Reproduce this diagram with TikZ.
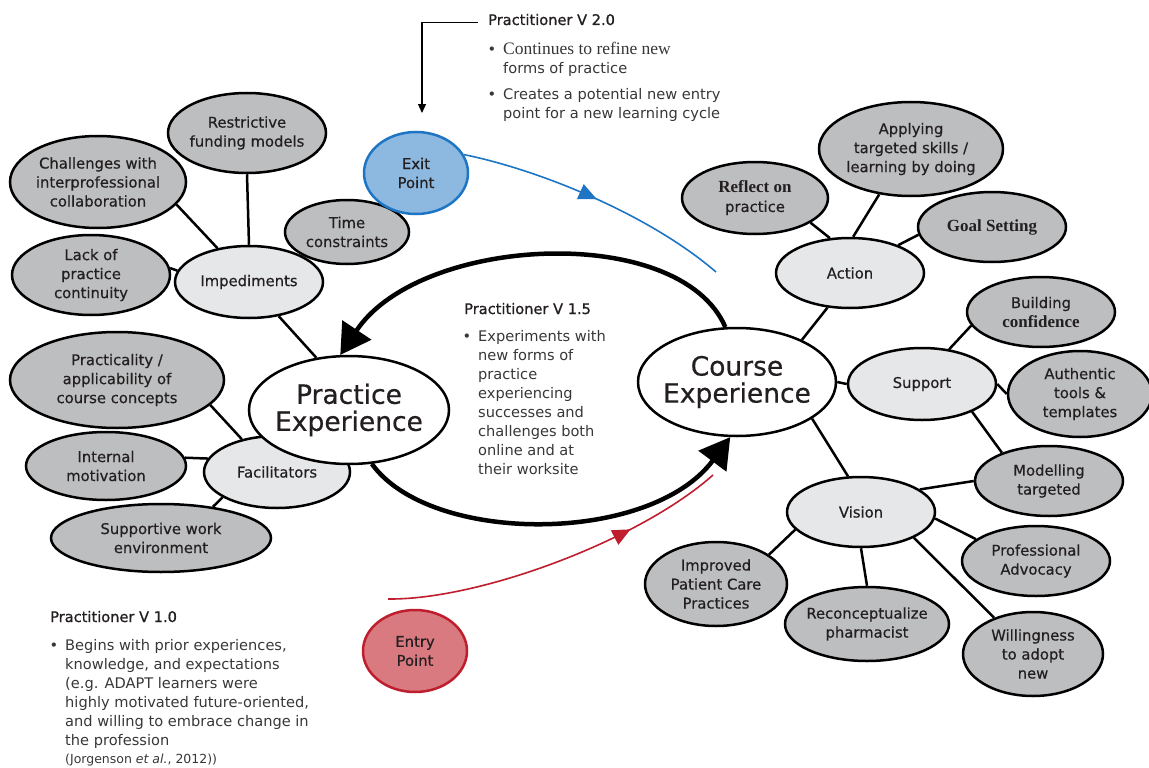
\documentclass[tikz,border=0pt]{standalone}
\usepackage{fontspec}
\setmainfont{DejaVu Sans}[FakeBold=0.5]
\newfontfamily\plainface{DejaVu Sans}
\newfontfamily\serifface{Liberation Serif}
\newfontfamily\headface[FakeBold=1.1]{DejaVu Sans}
\usetikzlibrary{shapes.geometric,arrows.meta,decorations.markings}

\definecolor{bubblegrey}{RGB}{189,190,192}
\definecolor{bubblelight}{RGB}{230,231,232}
\definecolor{inkgrey}{RGB}{35,31,32}
\definecolor{notegrey}{RGB}{55,55,55}
\definecolor{exitfill}{RGB}{141,184,223}
\definecolor{exitline}{RGB}{30,117,196}
\definecolor{entryfill}{RGB}{216,122,128}
\definecolor{entryline}{RGB}{190,30,45}

\begin{document}
\begin{tikzpicture}[x=1pt,y=-1pt,
  bubble/.style={ellipse,draw=black,line width=2.5pt,fill=bubblegrey,inner sep=-6pt,
    align=center,text=inkgrey,font=\fontsize{14.8}{19}\selectfont},
  ell/.style 2 args={minimum width=#1pt,minimum height=#2pt},
  theme/.style={bubble,fill=bubblelight},
  hub/.style={bubble,fill=white,font=\fontsize{26.5}{27}\selectfont},
  link/.style={line width=2.5pt},
  loopline/.style={line width=4.5pt,-{Triangle[length=30pt,width=34pt]}},
  flowarrow/.style={postaction={decorate},decoration={markings,
    mark=at position #1 with {\arrow{Triangle[length=18pt,width=16pt]}}}},
  notehead/.style={anchor=base west,inner sep=0pt,text=inkgrey,
    font=\fontsize{14.6}{19}\headface},
  note/.style={anchor=north west,align=left,inner sep=0pt,text=notegrey,
    font=\fontsize{14.6}{19}\plainface},
]
\useasboundingbox (0,0) rectangle (1149,768);

% impediments side
\node[bubble,ell={158}{80}] (funding) at (247,133) {Restrictive\\funding models};
\node[bubble,ell={176}{92}] (collab) at (98,182) {Challenges with\\interprofessional\\collaboration};
\node[bubble,ell={158}{80}] (continuity) at (91,275) {Lack of\\practice\\continuity};
\node[theme,ell={148}{72}] (impediments) at (249,282) {Impediments};
\node[bubble,ell={124}{64}] (timecon) at (347,232) {Time\\constraints};

% facilitators side
\node[bubble,ell={214}{96}] (practicality) at (117,380) {Practicality /\\applicability of\\course concepts};
\node[bubble,ell={160}{68}] (motivation) at (106,466) {Internal\\motivation};
\node[theme,ell={146}{72}] (facilitators) at (277,472) {Facilitators};
\node[bubble,ell={220}{68}] (workenv) at (161,538) {Supportive work\\environment};

% the two hubs
\node[hub,ell={200}{108}] (practice) at (349,410) {Practice\\Experience};
\node[hub,ell={198}{108}] (course) at (737,382) {Course\\Experience};

% action
\node[bubble,ell={146}{72}] (reflect) at (755,198) {{\fontsize{17}{19}\serifface\bfseries Reflect on}\\practice};
\node[bubble,ell={184}{94}] (applying) at (911,149) {Applying\\targeted skills /\\learning by doing};
\node[bubble,ell={148}{70}] (goal) at (992,227) {\fontsize{17}{19}\serifface\bfseries Goal Setting};
\node[theme,ell={148}{70}] (action) at (850,273) {Action};

% support
\node[bubble,ell={148}{70}] (confidence) at (1041,312) {Building\\{\fontsize{17}{19}\serifface\bfseries confidence}};
\node[theme,ell={148}{72}] (support) at (922,384) {Support};
\node[bubble,ell={144}{86}] (authentic) at (1080,394) {Authentic\\tools \&\\templates};
\node[bubble,ell={148}{70}] (modelling) at (1049,481) {Modelling\\targeted};

% vision
\node[theme,ell={148}{70}] (vision) at (861,512) {Vision};
\node[bubble,ell={142}{84}] (improved) at (716,584) {Improved\\Patient Care\\Practices};
\node[bubble,ell={164}{74}] (reconcept) at (867,624) {Reconceptualize\\pharmacist};
\node[bubble,ell={148}{70}] (advocacy) at (1036,561) {Professional\\Advocacy};
\node[bubble,ell={140}{84}] (willing) at (1033,654) {Willingness\\to adopt\\new};

% exit and entry
\node[bubble,ell={104}{82},fill=exitfill,draw=exitline] (exitpt) at (416,173) {Exit\\Point};
\node[bubble,ell={104}{82},fill=entryfill,draw=entryline] (entrypt) at (415,651) {Entry\\Point};

% spokes
\draw[link] (funding.south) -- (impediments.north);
\draw[link] (collab.-16) -- (impediments.133);
\draw[link] (continuity.5) -- (impediments.171);
\draw[link] (timecon) -- (impediments);
\draw[link] (impediments.-49) -- (practice.122);
\draw[link] (practicality.-15) -- (facilitators.137);
\draw[link] (motivation.6) -- (facilitators.169);
\draw[link] (workenv.31) -- (facilitators.205);

\draw[link] (course.33) -- (action.237);
\draw[link] (course.east) -- (support.west);
\draw[link] (course.-26) -- (vision.110);
\draw[link] (action.120) -- (reflect.-24);
\draw[link] (action.85) -- (applying.235);
\draw[link] (action.30) -- (goal.186);
\draw[link] (support.52) -- (confidence.191);
\draw[link] (support.east) -- (authentic.west);
\draw[link] (support.-29) -- (modelling.149);
\draw[link] (vision.21) -- (modelling.west);
\draw[link] (vision.-5) -- (advocacy.160);
\draw[link] (vision.-26) -- (willing.137);
\draw[link] (vision.south) -- (reconcept.north);
\draw[link] (vision.195) -- (improved.29);

% the learning cycle
\draw[loopline] (course.102) .. controls (680,222) and (420,235) .. (practice.99);
\draw[loopline] (practice.-67) .. controls (430,545) and (650,545) .. (course.263);

\coordinate (blueend) at (716,272);
\draw[exitline,line width=1.6pt,flowarrow=0.5] (exitpt.21) .. controls (540,170) and (650,215) .. (blueend);
\coordinate (redstart) at (388,599);
\coordinate (redend) at (713,475);
\draw[entryline,line width=1.6pt,flowarrow=0.72] (redstart) .. controls (480,600) and (640,540) .. (redend);

% notes
\node[notehead] (v2head) at (488,25) {Practitioner V 2.0};
\node[note] (v2a) at (503,42) {\llap{\textbullet\hspace{7pt}}{\fontsize{17.5}{19}\serifface Continues to refine new}\\forms of practice};
\node[note] (v2b) at (503,88) {\llap{\textbullet\hspace{7pt}}Creates a potential new entry\\point for a new learning cycle};
\coordinate (exitcall) at (422,113);
\draw[line width=1.2pt,-{Triangle[length=9pt,width=8pt]}] ([xshift=-10pt,yshift=-3pt]v2head.west) -| (exitcall);

\node[notehead] (v15head) at (464,314) {Practitioner V 1.5};
\node[note] (v15a) at (478,330) {\llap{\textbullet\hspace{7pt}}Experiments with\\new forms of\\practice\\experiencing\\successes and\\challenges both\\online and at\\their worksite};

\node[notehead] (v1head) at (50,622) {Practitioner V 1.0};
\node[note] (v1a) at (65,639) {\llap{\textbullet\hspace{7pt}}Begins with prior experiences,\\knowledge, and expectations\\(e.g. ADAPT learners were\\highly motivated future-oriented,\\and willing to embrace change in\\the profession\\[-1pt]{\fontsize{12.5}{15}\selectfont (Jorgenson \textit{et al.}, 2012))}};

\end{tikzpicture}
\end{document}
